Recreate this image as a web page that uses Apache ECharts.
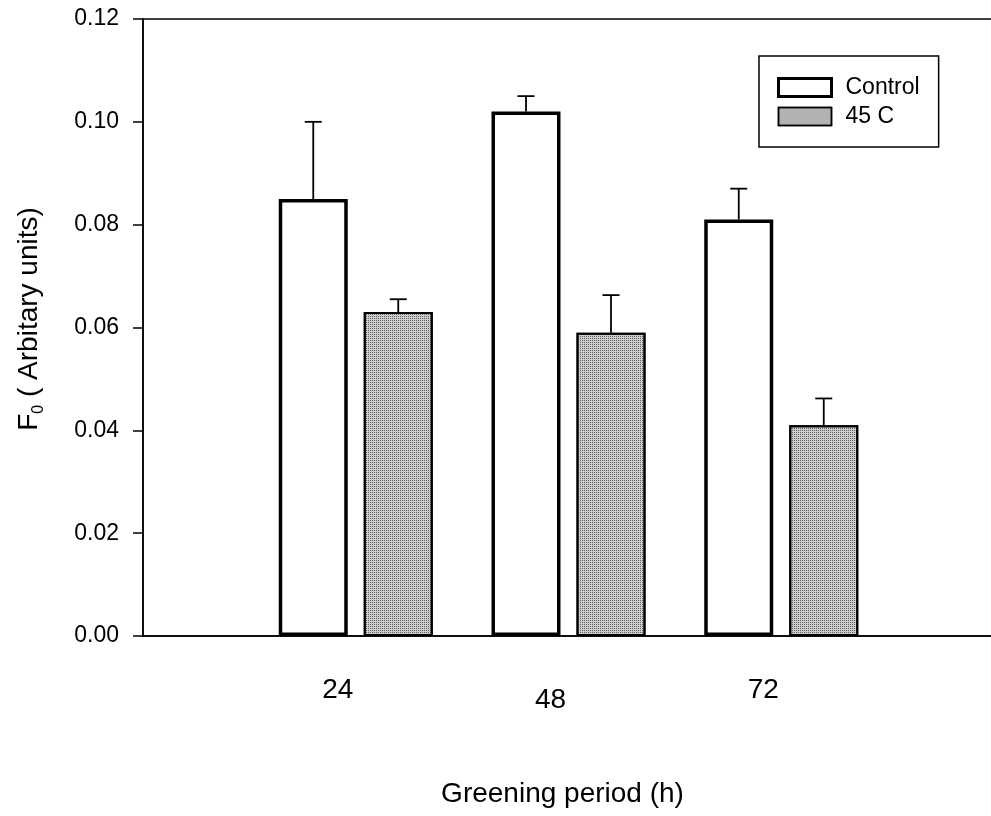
<!DOCTYPE html>
<html>
<head>
<meta charset="utf-8">
<script src="https://cdn.jsdelivr.net/npm/echarts@6/dist/echarts.min.js"></script>
<style>
html,body{margin:0;padding:0;background:#fff;}
#chart{width:991px;height:816px;}
</style>
</head>
<body>
<div id="chart"></div>
<script>
// ---- data ----
const categories = ['24', '48', '72'];
const controlValues = [0.085, 0.102, 0.081];
const controlErrors = [0.015, 0.003, 0.006];
const heatValues = [0.063, 0.059, 0.041];
const heatErrors = [0.0025, 0.0073, 0.0052];
const yTicks = [0, 0.02, 0.04, 0.06, 0.08, 0.10, 0.12];
const seriesNames = ['Control', '45 C'];

// ---- styling constants ----
const FONT = "'Liberation Sans', Arial, sans-serif";
const BAR_W = 69;
const GAP_PX = 16;
const HALF_STEP = (BAR_W + GAP_PX) / 2;
const HEAT_FILL = '#cdcdcd';
const HEAT_DECAL = {
  symbol: 'rect', symbolSize: 1, symbolKeepAspect: false,
  dashArrayX: [1, 1], dashArrayY: [1, 1],
  color: 'rgba(60,60,60,0.75)', rotation: 0
};

// Pad categories with empty slots at each end (axis extends half a group beyond)
const axisCats = [''].concat(categories.map((c, i) => {
  const item = { value: c };
  if (c === '48') item.textStyle = { padding: [10, 36, 0, 0] };
  return item;
}), ['']);
const pad = arr => [null].concat(arr, [null]);

function errData(vals, errs) {
  return vals.map((v, i) => [i + 1, v, errs[i]]);
}

function errRender(offset) {
  return function (params, api) {
    const x = api.value(0), v = api.value(1), e = api.value(2);
    const base = api.coord([x, v]);
    const top = api.coord([x, v + e]);
    const cx = base[0] + offset;
    const style = { stroke: '#000', lineWidth: 1.8 };
    return {
      type: 'group',
      children: [
        { type: 'line', shape: { x1: cx, y1: base[1], x2: cx, y2: top[1] }, style },
        { type: 'line', shape: { x1: cx - 8.5, y1: top[1], x2: cx + 8.5, y2: top[1] }, style }
      ]
    };
  };
}

const chart = echarts.init(document.getElementById('chart'), null, { renderer: 'canvas' });
chart.setOption({
  animation: false,
  backgroundColor: '#fff',
  aria: { enabled: false, decal: { show: false } },
  textStyle: { fontFamily: FONT, color: '#000' },
  grid: {
    left: 143, top: 19, right: -3, bottom: 180,
    show: true, borderColor: '#000', borderWidth: 1.5,
    containLabel: false, outerBoundsMode: 'none'
  },
  legend: {
    orient: 'vertical',
    left: 759, top: 56,
    padding: [20, 19, 19, 18],
    itemGap: 6,
    itemWidth: 53, itemHeight: 18,
    icon: 'rect',
    borderColor: '#000', borderWidth: 1.5,
    textStyle: { fontFamily: FONT, fontSize: 23, color: '#000', padding: [0, 0, 0, 9] },
    data: [
      { name: seriesNames[0], itemStyle: { color: '#fff', borderColor: '#000', borderWidth: 3 } },
      { name: seriesNames[1], itemStyle: { color: HEAT_FILL, borderColor: '#000', borderWidth: 1.5, decal: HEAT_DECAL } }
    ]
  },
  xAxis: {
    type: 'category',
    data: axisCats,
    boundaryGap: false,
    axisLine: { lineStyle: { color: '#000', width: 1.5 } },
    axisTick: { show: false },
    splitLine: { show: false },
    axisLabel: {
      interval: 0, margin: 40, fontSize: 28, color: '#000', fontFamily: FONT,
      padding: [0, 36, 0, 0]
    },
    name: 'Greening period (h)',
    nameLocation: 'middle',
    nameGap: 144,
    nameTextStyle: { fontSize: 28, color: '#000', fontFamily: FONT, padding: [0, 12, 0, 0] }
  },
  yAxis: {
    type: 'value',
    min: yTicks[0], max: yTicks[yTicks.length - 1], interval: yTicks[1] - yTicks[0],
    axisLine: { show: true, lineStyle: { color: '#000', width: 1.5 } },
    axisTick: { show: true, inside: false, length: 10, lineStyle: { color: '#000', width: 1.5 } },
    splitLine: { show: false },
    axisLabel: {
      margin: 24, fontSize: 23, color: '#000', fontFamily: FONT,
      formatter: v => v.toFixed(2)
    },
    name: '{f|F}{s|0}{t| ( Arbitary units)}',
    nameLocation: 'middle',
    nameRotate: 90,
    nameGap: 96,
    nameTextStyle: {
      padding: [0, 0, 0, 17],
      rich: {
        f: { fontSize: 28, fontFamily: FONT, color: '#000', lineHeight: 36, verticalAlign: 'middle' },
        s: { fontSize: 16, fontFamily: FONT, color: '#000', lineHeight: 36, verticalAlign: 'bottom' },
        t: { fontSize: 28, fontFamily: FONT, color: '#000', lineHeight: 36, verticalAlign: 'middle' }
      }
    }
  },
  series: [
    {
      name: seriesNames[0], type: 'bar',
      data: pad(controlValues),
      barWidth: BAR_W, barGap: (GAP_PX / BAR_W * 100).toFixed(1) + '%',
      itemStyle: { color: '#fff', borderColor: '#000', borderWidth: 3.5 },
      z: 2
    },
    {
      name: seriesNames[1], type: 'bar',
      data: pad(heatValues),
      barWidth: BAR_W,
      itemStyle: { color: HEAT_FILL, borderColor: '#000', borderWidth: 2, decal: HEAT_DECAL },
      z: 2
    },
    {
      name: 'errControl', type: 'custom',
      renderItem: errRender(-HALF_STEP),
      data: errData(controlValues, controlErrors),
      encode: { x: 0, y: [1] },
      z: 3, silent: true
    },
    {
      name: 'errHeat', type: 'custom',
      renderItem: errRender(HALF_STEP),
      data: errData(heatValues, heatErrors),
      encode: { x: 0, y: [1] },
      z: 3, silent: true
    }
  ]
});
</script>
</body>
</html>
